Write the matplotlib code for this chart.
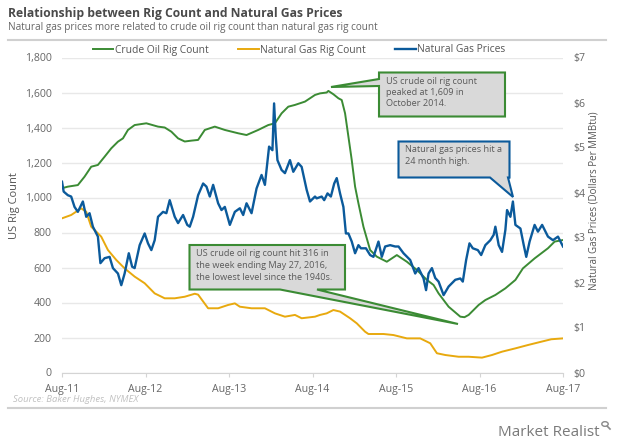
import matplotlib
matplotlib.use("Agg")
import matplotlib.pyplot as plt
from matplotlib.lines import Line2D
from matplotlib.patches import Polygon, Circle
import numpy as np

plt.rcParams['font.family'] = ['Open Sans', 'DejaVu Sans']

# ---------------- data ----------------
tick_labels = ["Aug-11", "Aug-12", "Aug-13", "Aug-14", "Aug-15", "Aug-16", "Aug-17"]
# x values: years elapsed since Aug-2011
crude_t = [0.00, 0.07, 0.19, 0.27, 0.35, 0.43, 0.51, 0.59, 0.67, 0.73, 0.79, 0.87, 1.01, 1.15,
           1.23, 1.31, 1.39, 1.47, 1.55, 1.63, 1.71, 1.83, 1.95, 2.11, 2.21, 2.35, 2.47, 2.55,
           2.63, 2.71, 2.79, 2.91, 2.97, 3.03, 3.09, 3.17, 3.19, 3.25, 3.31, 3.35, 3.39, 3.43,
           3.47, 3.51, 3.55, 3.61, 3.69, 3.77, 3.89, 4.01, 4.13, 4.25, 4.37, 4.45, 4.51, 4.63,
           4.77, 4.82, 4.87, 4.99, 5.07, 5.19, 5.31, 5.43, 5.52, 5.66, 5.82, 5.90, 6.00]
crude_rigs = [1053, 1062, 1071, 1119, 1176, 1186, 1233, 1281, 1319, 1338, 1386, 1414, 1424, 1405,
              1400, 1376, 1338, 1320, 1325, 1329, 1386, 1405, 1386, 1367, 1357, 1386, 1414, 1424,
              1481, 1519, 1529, 1548, 1567, 1586, 1595, 1600, 1609, 1590, 1567, 1557, 1481, 1348,
              1214, 1062, 967, 833, 700, 662, 633, 671, 633, 586, 529, 500, 452, 376,
              319, 316, 329, 386, 414, 443, 481, 529, 595, 652, 710, 748, 757]

gas_rig_t = [0.00, 0.11, 0.23, 0.29, 0.35, 0.41, 0.47, 0.55, 0.65, 0.75, 0.87, 0.99, 1.11, 1.23,
             1.35, 1.47, 1.59, 1.63, 1.75, 1.87, 1.99, 2.07, 2.13, 2.27, 2.43, 2.55, 2.67, 2.79,
             2.87, 3.03, 3.09, 3.17, 3.25, 3.33, 3.45, 3.53, 3.63, 3.67, 3.85, 3.97, 4.13, 4.29,
             4.41, 4.49, 4.59, 4.75, 4.87, 5.03, 5.15, 5.27, 5.43, 5.58, 5.74, 5.86, 6.00]
gas_rigs = [881, 900, 938, 919, 833, 805, 776, 700, 643, 595, 548, 510, 452, 424,
            424, 433, 450, 445, 367, 367, 386, 395, 376, 367, 367, 338, 319, 329,
            310, 319, 329, 338, 357, 348, 310, 281, 233, 220, 220, 214, 195, 195,
            167, 110, 100, 90, 90, 85, 100, 119, 138, 157, 176, 190, 195]

price_t = [0.00, 0.02, 0.07, 0.11, 0.15, 0.19, 0.25, 0.29, 0.33, 0.37, 0.43, 0.46, 0.51, 0.57,
           0.61, 0.67, 0.71, 0.75, 0.80, 0.84, 0.87, 0.93, 0.99, 1.03, 1.07, 1.11, 1.15, 1.21,
           1.25, 1.29, 1.35, 1.39, 1.45, 1.50, 1.53, 1.57, 1.63, 1.69, 1.73, 1.77, 1.81, 1.87,
           1.91, 1.95, 2.01, 2.07, 2.13, 2.17, 2.21, 2.27, 2.33, 2.39, 2.43, 2.48, 2.52, 2.54,
           2.56, 2.58, 2.63, 2.67, 2.73, 2.77, 2.83, 2.87, 2.93, 2.97, 3.03, 3.05, 3.11, 3.14,
           3.18, 3.22, 3.26, 3.29, 3.33, 3.37, 3.40, 3.43, 3.47, 3.51, 3.55, 3.58, 3.64, 3.69,
           3.73, 3.79, 3.83, 3.87, 3.93, 3.99, 4.03, 4.09, 4.17, 4.23, 4.27, 4.33, 4.36, 4.39,
           4.43, 4.47, 4.51, 4.57, 4.63, 4.71, 4.77, 4.80, 4.84, 4.88, 4.92, 4.98, 5.02, 5.07,
           5.13, 5.17, 5.19, 5.23, 5.27, 5.31, 5.33, 5.37, 5.40, 5.43, 5.49, 5.53, 5.56, 5.60,
           5.66, 5.70, 5.75, 5.82, 5.88, 5.94, 6.00]
gas_price = [4.24, 4.02, 3.94, 3.91, 3.68, 3.57, 3.80, 3.46, 3.54, 3.24, 3.02, 2.43, 2.54, 2.57,
             2.32, 2.20, 1.94, 2.20, 2.65, 2.35, 2.32, 2.83, 3.09, 2.87, 2.72, 2.94, 3.46, 3.57,
             3.54, 3.83, 3.46, 3.32, 3.50, 3.28, 3.24, 3.46, 3.94, 4.20, 4.13, 3.91, 4.17, 3.76,
             3.61, 3.68, 3.28, 3.57, 3.65, 3.50, 3.76, 3.54, 4.09, 4.39, 4.17, 5.02, 4.94, 5.98,
             5.24, 4.72, 4.50, 4.43, 4.72, 4.46, 4.65, 4.57, 4.06, 3.80, 3.91, 3.87, 3.91, 3.83,
             3.98, 3.91, 4.20, 4.32, 3.98, 3.68, 3.09, 3.09, 2.91, 2.65, 2.83, 2.76, 2.76, 2.61,
             2.57, 2.91, 2.57, 2.80, 2.83, 2.80, 2.80, 2.65, 2.50, 2.20, 2.32, 2.09, 1.83, 2.20,
             2.32, 2.10, 2.02, 1.72, 1.91, 2.06, 2.09, 2.02, 2.50, 2.87, 2.76, 2.72, 2.61, 2.83,
             2.94, 3.06, 3.24, 2.83, 2.68, 3.17, 3.61, 3.46, 3.80, 3.28, 3.20, 2.83, 2.57, 2.91,
             3.28, 3.13, 3.28, 3.02, 2.94, 3.02, 2.80]

rig_ticks = [0, 200, 400, 600, 800, 1000, 1200, 1400, 1600, 1800]
price_ticks = [0, 1, 2, 3, 4, 5, 6, 7]

GREEN = "#3b8b34"
ORANGE = "#e8a90e"
BLUE = "#0b5a9b"
GREY_TXT = "#666666"

W, H = 620, 447
fig = plt.figure(figsize=(W / 100, H / 100), dpi=100)
fig.patch.set_facecolor("white")


def fx(px):
    return px / W


def fy(py):
    return 1 - py / H


ax = fig.add_axes([fx(62), fy(372.5), (563 - 62) / W, (372.5 - 57.5) / H])
ax2 = ax.twinx()

ax.plot(crude_t, crude_rigs, color=GREEN, lw=1.4, label="Crude Oil Rig Count", zorder=3)
ax.plot(gas_rig_t, gas_rigs, color=ORANGE, lw=1.4, label="Natural Gas Rig Count", zorder=3)
ax2.plot(price_t, gas_price, color=BLUE, lw=1.7, label="Natural Gas Prices", zorder=3)

ax.set_xlim(0, len(tick_labels) - 1)
ax.set_ylim(0, 1800)
ax2.set_ylim(0, 7)
ax.set_xticks(range(len(tick_labels)))
ax.set_xticklabels(tick_labels)
ax.set_yticks(rig_ticks)
ax.set_yticklabels([f"{v:,}" for v in rig_ticks])
ax2.set_yticks(price_ticks)
ax2.set_yticklabels([f"${v}" for v in price_ticks])

for s in ["top", "right", "left"]:
    ax.spines[s].set_visible(False)
for s in ax2.spines.values():
    s.set_visible(False)
ax.spines["bottom"].set_color("#d4d4d4")
ax.yaxis.grid(True, color="#e8e8e8", lw=1)
ax.set_axisbelow(True)

ax.tick_params(axis="y", length=0, pad=7.5, labelcolor=GREY_TXT, labelsize=7.6)
ax2.tick_params(axis="y", length=0, pad=7.5, labelcolor=GREY_TXT, labelsize=7.6)
ax.tick_params(axis="x", length=3, color="#d4d4d4", pad=5, labelcolor=GREY_TXT, labelsize=7.6)

fig.text(fx(15), fy(206), "US Rig Count", rotation=90, ha="center", va="center",
         fontsize=8, color="#555555")
fig.text(fx(594), fy(201), "Natural Gas Prices (Dollars Per MMBtu)", rotation=90,
         ha="center", va="center", fontsize=7, color="#555555")

# title & subtitle
fig.text(fx(8), fy(13), "Relationship between Rig Count and Natural Gas Prices",
         fontsize=8.7, fontweight="bold", color="#4a4a4a", va="center", ha="left")
fig.text(fx(8), fy(27.5), "Natural gas prices more related to crude oil rig count than natural gas rig count",
         fontsize=7.2, color="#666666", va="center", ha="left")
fig.add_artist(Line2D([fx(8), fx(606)], [fy(40), fy(40)], color="#d0d0d0", lw=1.5))
fig.add_artist(Line2D([fx(8), fx(606)], [fy(408), fy(408)], color="#d0d0d0", lw=1.5))

fig.text(fx(13), fy(399), "Source: Baker Hughes, NYMEX", fontsize=6.8, style="italic",
         color="#c0c0c0", va="center", ha="left")
fig.text(fx(600), fy(432), "Market Realist", fontsize=11, color="#7a7a7a",
         va="center", ha="right")
# small magnifier mark next to the logo text
fig.add_artist(Circle((fx(605), fy(424)), 3.2 / W, transform=fig.transFigure,
                      facecolor="none", edgecolor="#8a8a8a", lw=1))
fig.add_artist(Line2D([fx(607.3), fx(610)], [fy(426.3), fy(429)], color="#8a8a8a", lw=1.2))

# legend
h1, l1 = ax.get_legend_handles_labels()
h2, l2 = ax2.get_legend_handles_labels()
fig.legend(h1 + h2, l1 + l2, loc="center", bbox_to_anchor=(fx(299), fy(50)), ncol=3,
           frameon=False, fontsize=7.4, handlelength=2.0, handletextpad=0.1,
           columnspacing=2.9, labelcolor="#555555")


# callouts (pixel geometry)
def callout(box, wedge_base, tip, side, edge, text, text_xy, spacing):
    x0, y0, x1, y1 = box
    if side == "left":
        pts = [(x0, y0), (x1, y0), (x1, y1), (x0, y1), (x0, wedge_base[1]), tip, (x0, wedge_base[0])]
    else:  # bottom
        pts = [(x0, y0), (x1, y0), (x1, y1), (wedge_base[1], y1), tip, (wedge_base[0], y1), (x0, y1)]
    poly = Polygon([(fx(a), fy(b)) for a, b in pts], closed=True, transform=fig.transFigure,
                   facecolor="#d9d9d9", edgecolor=edge, lw=1.5, zorder=10)
    fig.add_artist(poly)
    fig.text(fx(text_xy[0]), fy(text_xy[1]), text, fontsize=6.6, color="#5a5a5a",
             va="top", ha="left", linespacing=spacing, zorder=11)


callout((379, 72.5, 505, 116.5), (79, 86), (331, 87), "left", GREEN,
        "US crude oil rig count\npeaked at 1,609 in\nOctober 2014.", (386, 77), 1.3)
callout((398.5, 141.5, 509.5, 177.5), (490, 508), (513, 197), "bottom", BLUE,
        "Natural gas prices hit a\n24 month high.", (405, 145.5), 1.4)
callout((189.5, 245, 345, 289.5), (280, 317), (458, 324), "bottom", GREEN,
        "US crude oil rig count hit 316 in\nthe week ending May 27, 2016,\nthe lowest level since the 1940s.",
        (196.5, 249), 1.42)

fig.savefig("out.png", dpi=100, facecolor="white")
